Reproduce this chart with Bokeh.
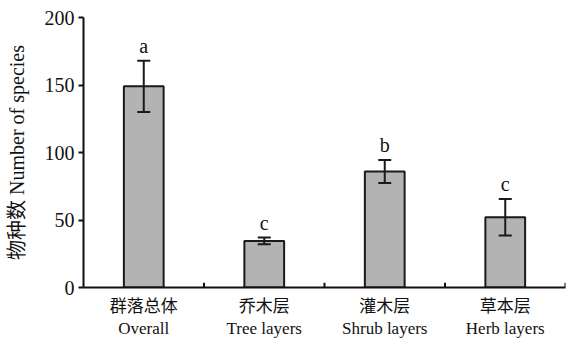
from bokeh.plotting import figure
from bokeh.models import ColumnDataSource, Whisker, TeeHead, FixedTicker, Range1d
from bokeh.core.properties import value
from bokeh.embed import file_html
from bokeh.resources import INLINE

categories_cn = ["群落总体", "乔木层", "灌木层", "草本层"]
categories_en = ["Overall", "Tree layers", "Shrub layers", "Herb layers"]
means = [149, 34.5, 86, 52]
errors = [19, 2.5, 8.5, 13.5]
letters = ["a", "c", "b", "c"]
y_ticks = [0, 50, 100, 150, 200]

FONT = "'Liberation Serif', 'Times New Roman', 'Noto Sans CJK SC', serif"

xs = list(range(1, len(means) + 1))
uppers = [m + e for m, e in zip(means, errors)]
src = ColumnDataSource(dict(
    x=xs,
    top=means,
    upper=uppers,
    lower=[m - e for m, e in zip(means, errors)],
    letter=letters,
))

p = figure(width=566, height=341, output_backend="svg", toolbar_location=None,
           x_range=Range1d(0.5, len(means) + 0.5), y_range=Range1d(0, 200))
p.min_border_left = 83
p.min_border_top = 17
p.min_border_right = 1
p.min_border_bottom = 0
p.outline_line_color = None
p.grid.visible = False
p.background_fill_color = "white"

p.vbar(x="x", top="top", width=0.33, source=src,
       fill_color="#b3b3b3", line_color="#1a1a1a", line_width=2)

w = Whisker(base="x", upper="upper", lower="lower", source=src, level="overlay",
            line_color="#1a1a1a", line_width=2,
            upper_head=TeeHead(size=13, line_color="#1a1a1a", line_width=2),
            lower_head=TeeHead(size=13, line_color="#1a1a1a", line_width=2))
p.add_layout(w)

p.text(x="x", y="upper", text="letter", source=src, text_align="center",
       text_baseline="bottom", y_offset=-4, text_font=value(FONT),
       text_font_size="20px", text_color="#111111", level="overlay")

# boundary ticks (inside) on x axis
bounds = [x + 0.5 for x in xs]
p.segment(x0=bounds, x1=bounds, y0=[0] * len(bounds), y1=[3.6] * len(bounds),
          line_color="#111111", line_width=2)

xa = p.xaxis[0]
xa.ticker = FixedTicker(ticks=xs)
xa.major_label_overrides = {x: f"{c}\n{e}" for x, c, e in zip(xs, categories_cn, categories_en)}
xa.major_tick_line_color = None
xa.minor_tick_line_color = None
xa.axis_line_color = "#111111"
xa.axis_line_width = 2
xa.major_label_text_font = FONT
xa.major_label_text_font_size = "17px"
xa.major_label_text_color = "#111111"
xa.major_label_standoff = 3

ya = p.yaxis[0]
ya.ticker = FixedTicker(ticks=y_ticks)
ya.minor_tick_line_color = None
ya.major_tick_in = 0
ya.major_tick_out = 5
ya.major_tick_line_width = 2
ya.major_tick_line_color = "#111111"
ya.axis_line_color = "#111111"
ya.axis_line_width = 2
ya.major_label_text_font = FONT
ya.major_label_text_font_size = "20px"
ya.major_label_text_color = "#111111"
ya.major_label_standoff = 4
ya.axis_label = "物种数 Number of species"
ya.axis_label_text_font = FONT
ya.axis_label_text_font_style = "normal"
ya.axis_label_text_font_size = "20px"
ya.axis_label_text_color = "#111111"
ya.axis_label_standoff = 14

open("out.html", "w").write(file_html(p, INLINE))
